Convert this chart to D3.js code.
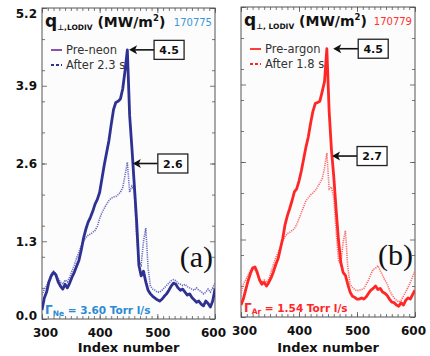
<!DOCTYPE html>
<html><head><meta charset="utf-8">
<script src="https://cdn.jsdelivr.net/npm/d3@7"></script>
<style>
body{margin:0;background:#fff}
svg{display:block}
</style>
</head><body>
<svg id="chart" width="430" height="356"></svg>
<script>
// Sample grid along the divertor profile (index number)
const indexNumbers = d3.range(300, 601, 4);

// q_perp at LODIV (MW/m^2), shot 170775
const preNeon = [
  0.15,0.35,0.45,0.62,0.72,0.78,0.74,0.62,0.55,0.50,
  0.58,0.52,0.60,0.70,0.78,0.88,0.98,1.15,1.35,1.50,
  1.62,1.70,1.80,1.92,2.00,2.12,2.35,2.58,2.78,2.98,
  3.25,3.50,3.62,3.64,3.68,3.85,4.15,4.50,3.40,2.85,
  2.25,1.65,0.90,0.72,0.80,0.62,0.48,0.42,0.38,0.35,
  0.32,0.30,0.33,0.38,0.42,0.48,0.55,0.60,0.58,0.52,
  0.48,0.50,0.45,0.40,0.42,0.36,0.32,0.28,0.30,0.25,
  0.22,0.30,0.26,0.20,0.30,0.50
];
const afterNeon = [
  0.40,0.50,0.55,0.65,0.75,0.80,0.76,0.68,0.62,0.58,
  0.65,0.62,0.70,0.80,0.90,1.02,1.12,1.22,1.30,1.36,
  1.40,1.42,1.45,1.48,1.55,1.68,1.78,1.85,1.92,1.98,
  2.02,2.04,2.05,2.08,2.12,2.20,2.40,2.62,2.12,2.22,
  2.15,1.40,0.95,0.90,1.30,1.52,0.85,0.55,0.50,0.48,
  0.45,0.45,0.48,0.52,0.56,0.60,0.64,0.66,0.64,0.60,
  0.58,0.56,0.58,0.54,0.52,0.50,0.48,0.52,0.48,0.46,
  0.42,0.45,0.50,0.45,0.52,0.60
];

// q_perp at LODIV (MW/m^2), shot 170779
const preArgon = [
  0.20,0.30,0.45,0.60,0.72,0.82,0.84,0.75,0.62,0.55,
  0.58,0.52,0.58,0.66,0.76,0.88,0.98,1.15,1.32,1.55,
  1.70,1.82,1.95,2.10,2.15,2.28,2.45,2.65,2.85,3.02,
  3.25,3.45,3.58,3.60,3.62,3.78,3.95,4.50,3.45,2.80,
  2.35,1.80,1.30,0.92,0.75,0.70,0.55,0.42,0.35,0.33,
  0.30,0.30,0.32,0.30,0.34,0.40,0.45,0.48,0.52,0.46,
  0.48,0.42,0.40,0.36,0.30,0.25,0.24,0.20,0.18,0.24,
  0.20,0.28,0.32,0.30,0.38,0.45
];
const afterArgon = [
  0.40,0.55,0.62,0.70,0.78,0.82,0.80,0.72,0.65,0.58,
  0.62,0.58,0.64,0.76,0.88,1.00,1.08,1.18,1.28,1.35,
  1.40,1.42,1.45,1.48,1.55,1.65,1.75,1.85,1.95,2.00,
  2.05,2.08,2.12,2.18,2.25,2.32,2.50,2.75,2.15,2.18,
  2.00,1.45,0.95,0.88,1.25,1.45,0.85,0.55,0.50,0.46,
  0.44,0.45,0.46,0.48,0.55,0.62,0.72,0.80,0.82,0.86,
  0.78,0.70,0.62,0.56,0.45,0.38,0.32,0.28,0.25,0.28,
  0.35,0.42,0.50,0.58,0.68,0.78
];

// Axis ticks
const xTicks = [300, 400, 500, 600];
const yTicks = [0, 1.3, 2.6, 3.9, 5.2];
const yTickLabels = ["0.0", "1.3", "2.6", "3.9", "5.2"];

// Annotated values: [label, value, index the arrow points at]
const neonNotes = [["4.5", 4.5, 451], ["2.6", 2.6, 457.5]];
const argonNotes = [["4.5", 4.5, 459], ["2.7", 2.7, 457]];

const svg = d3.select("#chart");
const BOLD = "'DejaVu Sans', sans-serif";

const panels = [
  {
    id: "a", left: 42, right: 215, top: 8, bottom: 319, yLabels: true,
    solid: preNeon, dotted: afterNeon,
    solidColor: "#2e3192", dottedColor: "#6a6ac2",
    legendSolid: "#7b3fa6", legendDash: "#2e3192",
    sub: "\u22a5,LODIV", shot: "170775", shotColor: "#3a96d8",
    legend: ["Pre-neon", "After 2.3 s"],
    gas: "Ne", rate: " = 3.60 Torr l/s", gasColor: "#2a8ad4",
    notes: neonNotes, tag: "(a)"
  },
  {
    id: "b", left: 241, right: 415, top: 7, bottom: 317, yLabels: false,
    solid: preArgon, dotted: afterArgon,
    solidColor: "#ff2626", dottedColor: "#ff6a6a",
    legendSolid: "#ff2626", legendDash: "#ff2626",
    sub: "\u22a5, LODIV", shot: "170779", shotColor: "#ff3030",
    legend: ["Pre-argon", "After 1.8 s"],
    gas: "Ar", rate: " = 1.54 Torr l/s", gasColor: "#ff2626",
    notes: argonNotes, tag: "(b)"
  }
];

panels.forEach(drawPanel);

function drawPanel(p) {
  const x = d3.scaleLinear().domain([300, 600]).range([p.left, p.right]);
  const y = d3.scaleLinear().domain([0, 5.2]).range([p.bottom, p.top]);
  const g = svg.append("g");
  const w = p.right - p.left, h = p.bottom - p.top;

  g.append("rect").attr("x", p.left).attr("y", p.top)
    .attr("width", w).attr("height", h).attr("fill", "#fcfcfc");

  const clipId = "clip-" + p.id;
  svg.append("clipPath").attr("id", clipId).append("rect")
    .attr("x", p.left).attr("y", p.top).attr("width", w).attr("height", h);

  // Inward ticks on all four sides
  const tickColor = "#555";
  const minorX = d3.range(300, 601, 10);
  const minorY = d3.range(0, 5.21, 0.52);
  const addAxis = (axis, tx, ty) => {
    const a = g.append("g").attr("transform", `translate(${tx},${ty})`).call(axis);
    a.select(".domain").remove();
    a.selectAll("line").attr("stroke", tickColor).attr("stroke-width", 0.8);
    a.selectAll("text").remove();
    return a;
  };
  addAxis(d3.axisBottom(x).tickValues(minorX).tickSize(-3), 0, p.bottom);
  addAxis(d3.axisBottom(x).tickValues(xTicks).tickSize(-5), 0, p.bottom);
  addAxis(d3.axisTop(x).tickValues(minorX).tickSize(-3), 0, p.top);
  addAxis(d3.axisTop(x).tickValues(xTicks).tickSize(-5), 0, p.top);
  addAxis(d3.axisLeft(y).tickValues(minorY).tickSize(-3), p.left, 0);
  addAxis(d3.axisLeft(y).tickValues(yTicks).tickSize(-5), p.left, 0);
  addAxis(d3.axisRight(y).tickValues(minorY).tickSize(-3), p.right, 0);
  addAxis(d3.axisRight(y).tickValues(yTicks).tickSize(-5), p.right, 0);

  // Bottom tick labels
  const bx = g.append("g").attr("transform", `translate(0,${p.bottom})`)
    .call(d3.axisBottom(x).tickValues(xTicks).tickSize(0).tickPadding(9));
  bx.select(".domain").remove();
  bx.selectAll("text").attr("font-family", BOLD).attr("font-weight", "bold")
    .attr("font-size", 12).attr("fill", "#111")
    .attr("dx", d => d === 300 ? 3 : d === 600 ? -2 : 0);

  if (p.yLabels) {
    const ly = g.append("g").attr("transform", `translate(${p.left},0)`)
      .call(d3.axisLeft(y).tickValues(yTicks).tickSize(0).tickPadding(5)
        .tickFormat((d, i) => yTickLabels[i]));
    ly.select(".domain").remove();
    ly.selectAll("text").attr("font-family", BOLD).attr("font-weight", "bold")
      .attr("font-size", 12).attr("fill", "#111")
      .attr("dy", d => d === 5.2 ? "0.75em" : d === 0 ? "0.05em" : "0.32em");
  }

  // Frame
  g.append("rect").attr("x", p.left).attr("y", p.top)
    .attr("width", w).attr("height", h)
    .attr("fill", "none").attr("stroke", "#555").attr("stroke-width", 1);

  // Profiles
  const line = d3.line().x((d, i) => x(indexNumbers[i])).y(d => y(d));
  const plot = g.append("g").attr("clip-path", `url(#${clipId})`);
  plot.append("path").datum(p.dotted).attr("d", line)
    .attr("fill", "none").attr("stroke", p.dottedColor)
    .attr("stroke-width", 1.6).attr("stroke-dasharray", "1.2,1");
  plot.append("path").datum(p.solid).attr("d", line)
    .attr("fill", "none").attr("stroke", p.solidColor)
    .attr("stroke-width", 2.8).attr("stroke-linejoin", "round");

  // Title
  const t = g.append("text").attr("x", p.left + 3).attr("y", p.top + 19)
    .attr("font-family", BOLD).attr("font-weight", "bold").attr("fill", "#111");
  t.append("tspan").attr("font-size", 17).text("q");
  t.append("tspan").attr("font-size", 7.5).attr("dy", 3).text(p.sub);
  t.append("tspan").attr("font-size", 14).attr("dy", -3).text(" (MW/m");
  t.append("tspan").attr("font-size", 8.5).attr("dy", -6).text("2");
  t.append("tspan").attr("font-size", 14).attr("dy", 6).text(")");
  g.append("text").attr("x", p.right - 3).attr("y", p.top + 18)
    .attr("text-anchor", "end").attr("font-family", BOLD)
    .attr("font-size", 10).attr("fill", p.shotColor).text(p.shot);

  // Legend
  const lx = p.left + 9;
  const legendRows = [
    { y: p.top + 42, color: p.legendSolid, dash: null, label: p.legend[0] },
    { y: p.top + 57, color: p.legendDash, dash: "3,2", label: p.legend[1] }
  ];
  legendRows.forEach(r => {
    g.append("line").attr("x1", lx).attr("x2", lx + 11).attr("y1", r.y).attr("y2", r.y)
      .attr("stroke", r.color).attr("stroke-width", 1.8)
      .attr("stroke-dasharray", r.dash);
    g.append("text").attr("x", lx + 15).attr("y", r.y + 4)
      .attr("font-family", BOLD).attr("font-size", 11.5).attr("fill", "#333")
      .text(r.label);
  });

  // Value call-outs with arrows
  p.notes.forEach(([label, value, at]) => {
    const tipX = x(at), tipY = y(value);
    const boxL = tipX + 25, bw = 30, bh = 19;
    g.append("line").attr("x1", tipX + 6).attr("x2", boxL).attr("y1", tipY).attr("y2", tipY)
      .attr("stroke", "#111").attr("stroke-width", 1.6);
    g.append("path")
      .attr("d", `M${tipX},${tipY}L${tipX + 8},${tipY - 4.5}L${tipX + 6},${tipY}L${tipX + 8},${tipY + 4.5}Z`)
      .attr("fill", "#111");
    g.append("rect").attr("x", boxL).attr("y", tipY - bh / 2).attr("width", bw).attr("height", bh)
      .attr("fill", "#fff").attr("stroke", "#222").attr("stroke-width", 1.3);
    g.append("text").attr("x", boxL + bw / 2).attr("y", tipY + 4)
      .attr("text-anchor", "middle").attr("font-family", BOLD).attr("font-weight", "bold")
      .attr("font-size", 11).attr("fill", "#111").text(label);
  });

  // Panel tag
  g.append("text").attr("x", p.right - 2).attr("y", p.bottom - 52)
    .attr("text-anchor", "end").attr("font-family", "'Liberation Serif', 'Times New Roman', serif")
    .attr("font-size", 30).attr("fill", "#111").text(p.tag);

  // Gas puff rate
  const gt = g.append("text").attr("x", p.left + 3).attr("y", p.bottom - 5)
    .attr("font-family", BOLD).attr("font-weight", "bold").attr("fill", p.gasColor);
  gt.append("tspan").attr("font-size", 12).text("\u0393");
  gt.append("tspan").attr("font-size", 7.5).attr("dy", 2).text(p.gas);
  gt.append("tspan").attr("font-size", 10.5).attr("dy", -2).text(p.rate);

  // Axis title
  g.append("text").attr("x", (p.left + p.right) / 2).attr("y", 352)
    .attr("text-anchor", "middle").attr("font-family", BOLD).attr("font-weight", "bold")
    .attr("font-size", 13).attr("fill", "#111").text("Index number");
}
</script>
</body></html>
